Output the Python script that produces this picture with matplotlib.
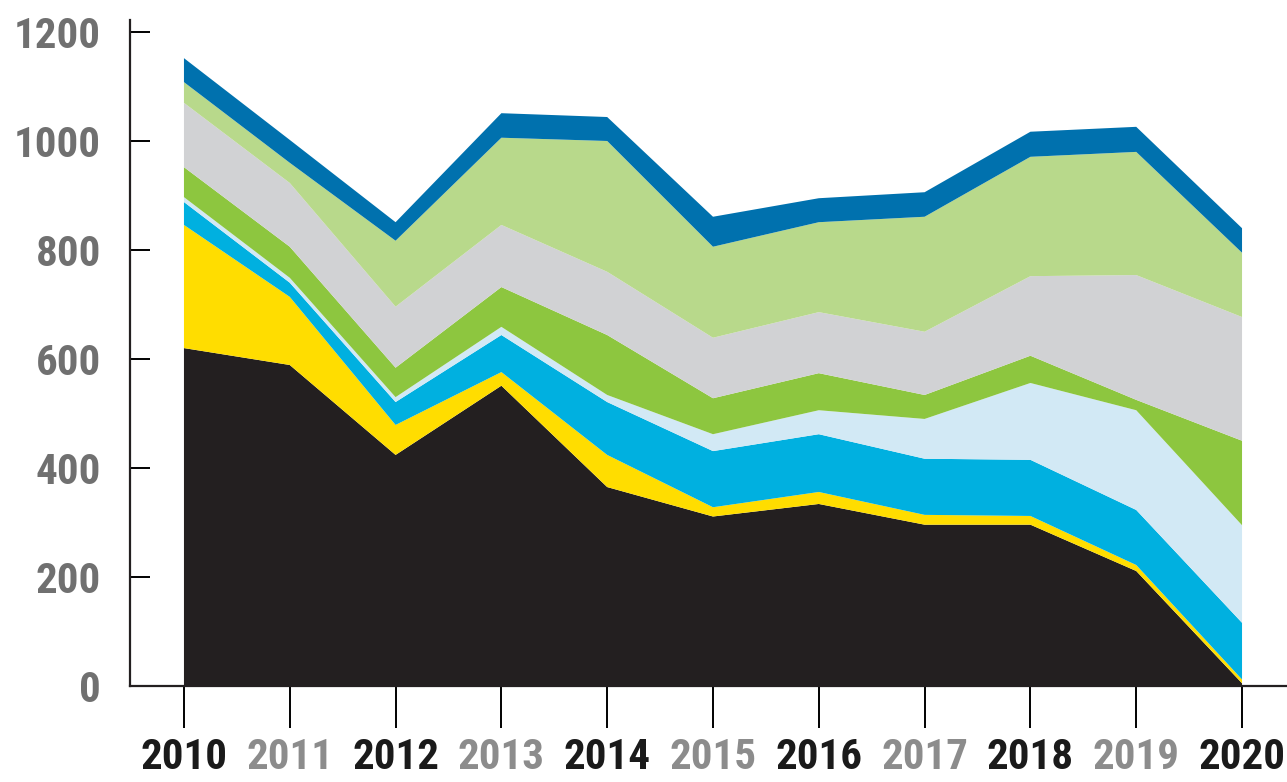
import matplotlib
matplotlib.use("Agg")
import matplotlib.pyplot as plt

years = [2010, 2011, 2012, 2013, 2014, 2015, 2016, 2017, 2018, 2019, 2020]
black = [620, 589, 424, 551, 365, 311, 334, 296, 296, 211, 5]
yellow = [226, 125, 55, 25, 59, 17, 22, 18, 16, 11, 7]
cyan = [42, 26, 42, 68, 97, 103, 106, 103, 103, 101, 104]
light_blue = [9, 9, 9, 15, 13, 31, 44, 73, 141, 183, 179]
green = [55, 57, 54, 73, 110, 66, 68, 44, 50, 19, 155]
gray = [118, 117, 112, 114, 116, 111, 112, 116, 146, 229, 227]
light_green = [38, 37, 121, 160, 240, 167, 165, 211, 219, 226, 118]
dark_blue = [44, 42, 34, 45, 44, 55, 44, 45, 46, 46, 45]
y_ticks = [0, 200, 400, 600, 800, 1000, 1200]

colors = ["#231f20", "#ffdd00", "#00b0e0", "#d2e9f5", "#8dc63f",
          "#d1d2d4", "#b8d98b", "#0071ae"]

font = ["Roboto Condensed", "DejaVu Sans"]

fig = plt.figure(figsize=(12.87, 7.82), dpi=100)
ax = fig.add_axes([130 / 1287, 96 / 782, 1 - 130 / 1287, (686 - 20) / 782])
ax.stackplot(years, black, yellow, cyan, light_blue, green, gray,
             light_green, dark_blue, colors=colors, linewidth=0)
ax.set_xlim(2009.49, 2020.425)
ax.set_ylim(0, 1222)
for s in ["top", "right"]:
    ax.spines[s].set_visible(False)
for s in ["left", "bottom"]:
    ax.spines[s].set_linewidth(1.6)
    ax.spines[s].set_color("#231f20")
ax.set_yticks(y_ticks)
ax.set_yticklabels([str(v) for v in y_ticks], fontsize=31, fontweight="bold",
                   color="#707070", family=font)
ax.tick_params(axis="y", direction="in", length=14.5, width=1.4, pad=21)
ax.set_xticks(years)
ax.set_xticklabels([str(y) for y in years], fontsize=31, fontweight="bold",
                   family=font)
for i, lab in enumerate(ax.get_xticklabels()):
    lab.set_color("#1a1a1a" if i % 2 == 0 else "#8c8c8c")
ax.tick_params(axis="x", direction="out", length=30, width=1.4, pad=7)
fig.savefig("out.png", dpi=100)
